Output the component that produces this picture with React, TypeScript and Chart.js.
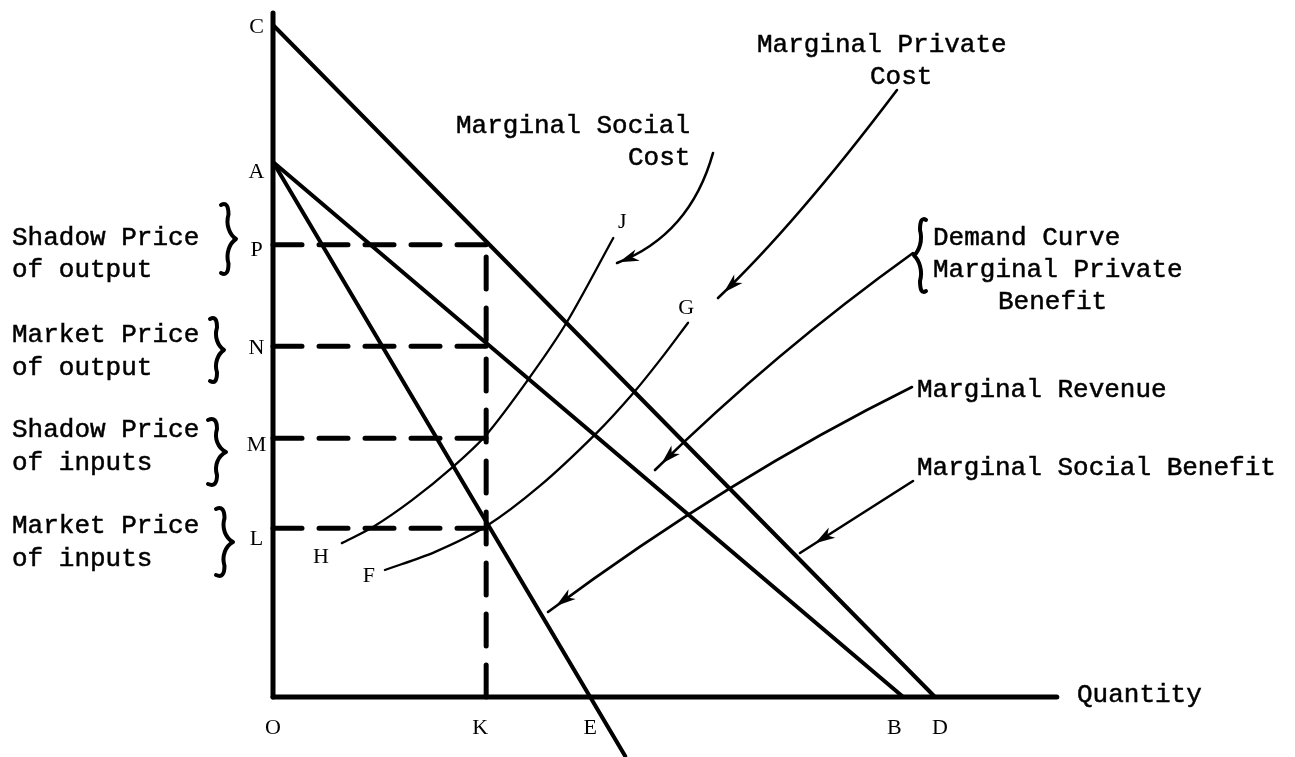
import React, { useEffect, useRef } from "react";
import { Chart, registerables } from "chart.js";

Chart.register(...registerables);

// ---- Data (economic units; origin O = 0,0) ----
const quantityLabels = ["O", "K", "E", "B", "D"];
const quantityValues = [0, 32.2, 47.9, 95.2, 100];

const priceLabels = ["L", "M", "N", "P", "A", "C"];
const priceValues = [25.1, 38.5, 52.2, 67.3, 79.6, 100];

const axisTop = 101.8;
const axisRight = 118.4;

// Marginal Social Benefit: C -> D
const socialBenefitX = [0, 100];
const socialBenefitY = [100, 0];
// Demand curve / Marginal Private Benefit: A -> B
const demandX = [0, 95.2];
const demandY = [79.6, 0];
// Marginal Revenue: A -> E and beyond
const revenueX = [0, 53.2];
const revenueY = [79.6, -8.8];

// Marginal Social Cost: H -> J
const socialCostX = [10.4, 15.1, 21.0, 27.0, 32.2, 38.8, 44.4, 51.4];
const socialCostY = [22.9, 25.3, 29.3, 34.1, 39.0, 47.6, 55.8, 68.3];
// Marginal Private Cost: F -> G
const privateCostX = [16.9, 24.5, 32.2, 40.3, 48.9, 54.4, 58.5, 62.7];
const privateCostY = [18.9, 21.6, 25.4, 31.4, 39.3, 45.2, 50.2, 55.7];

const K = quantityValues[1];

const pts = (xs: number[], ys: number[]) => xs.map((x, i) => ({ x, y: ys[i] }));

const BLACK = "#000000";
const MONO = "26px 'Liberation Mono', 'Courier New', monospace";
const SERIF = "22px 'Liberation Serif', 'Times New Roman', serif";

const monoTexts: [string, number, number][] = [
  ["Shadow Price", 12, 245],
  ["of output", 12, 277],
  ["Market Price", 12, 342],
  ["of output", 12, 375],
  ["Shadow Price", 12, 437],
  ["of inputs", 12, 470],
  ["Market Price", 12, 533],
  ["of inputs", 12, 566],
  ["Marginal Social", 456, 133],
  ["Cost", 628, 165],
  ["Marginal Private", 757, 52],
  ["Cost", 870, 84],
  ["Demand Curve", 933, 245],
  ["Marginal Private", 933, 277],
  ["Benefit", 998, 309],
  ["Marginal Revenue", 917, 397],
  ["Marginal Social Benefit", 917, 475],
  ["Quantity", 1077, 702],
];

const priceLabelDy = [9, 5, 0, 4, 8, 1];
const quantityLabelDx = [0, -6, 0, -9, 5];

function drawBrace(ctx: CanvasRenderingContext2D, x: number, y1: number, y2: number, w: number, dir: number) {
  const h = y2 - y1;
  const m = (y1 + y2) / 2;
  const xs = x + dir * w * 0.5;
  const xt = x + dir * w;
  ctx.beginPath();
  ctx.moveTo(x, y1 + 2);
  ctx.quadraticCurveTo(xs, y1 - 2, xs, y1 + h * 0.16);
  ctx.bezierCurveTo(xs - dir * 3, m - h * 0.2, xs + dir * 1, m - h * 0.06, xt, m);
  ctx.bezierCurveTo(xs + dir * 1, m + h * 0.06, xs - dir * 3, m + h * 0.2, xs, y2 - h * 0.16);
  ctx.quadraticCurveTo(xs, y2 + 2, x, y2 - 2);
  ctx.stroke();
}

function drawDart(ctx: CanvasRenderingContext2D, ex: number, ey: number, dx: number, dy: number, gap: number) {
  const len = Math.hypot(dx, dy);
  const ux = dx / len, uy = dy / len;
  const fx = ex - ux * gap, fy = ey - uy * gap;
  const L = 20, W = 6;
  const bx = fx - ux * L, by = fy - uy * L;
  const nx = -uy, ny = ux;
  const cx = fx - ux * L * 0.72, cy = fy - uy * L * 0.72;
  ctx.beginPath();
  ctx.moveTo(fx, fy);
  ctx.lineTo(bx + nx * W, by + ny * W);
  ctx.lineTo(cx, cy);
  ctx.lineTo(bx - nx * W, by - ny * W);
  ctx.closePath();
  ctx.fill();
}

function drawArrow(
  ctx: CanvasRenderingContext2D,
  s: [number, number],
  c: [number, number] | null,
  e: [number, number],
  gap: number
) {
  ctx.beginPath();
  ctx.moveTo(s[0], s[1]);
  if (c) ctx.quadraticCurveTo(c[0], c[1], e[0], e[1]);
  else ctx.lineTo(e[0], e[1]);
  ctx.stroke();
  const from = c || s;
  drawDart(ctx, e[0], e[1], e[0] - from[0], e[1] - from[1], gap);
}

const annotationPlugin = {
  id: "diagramAnnotations",
  afterDatasetsDraw(chart: any) {
    const ctx: CanvasRenderingContext2D = chart.ctx;
    const xs = chart.scales.x;
    const ys = chart.scales.y;
    const px = (v: number) => xs.getPixelForValue(v);
    const py = (v: number) => ys.getPixelForValue(v);
    ctx.save();
    ctx.fillStyle = BLACK;
    ctx.strokeStyle = BLACK;

    // typewriter texts (slightly emboldened like the typed original)
    ctx.font = MONO;
    ctx.textAlign = "left";
    ctx.textBaseline = "alphabetic";
    ctx.lineWidth = 0.5;
    monoTexts.forEach(([t, x, y]) => {
      ctx.fillText(t, x, y);
      ctx.strokeText(t, x, y);
    });

    // point letters
    ctx.font = SERIF;
    ctx.textAlign = "center";
    priceLabels.forEach((l, i) => {
      ctx.fillText(l, px(0) - 16.5, py(priceValues[i]) + priceLabelDy[i] + 7.5);
    });
    quantityLabels.forEach((l, i) => {
      ctx.fillText(l, px(quantityValues[i]) + quantityLabelDx[i], py(0) + 37.5);
    });
    const n1 = socialCostX.length - 1;
    const n2 = privateCostX.length - 1;
    ctx.fillText("H", px(socialCostX[0]) - 21, py(socialCostY[0]) + 19.5);
    ctx.fillText("J", px(socialCostX[n1]) + 9, py(socialCostY[n1]) - 10.5);
    ctx.fillText("F", px(privateCostX[0]) - 16, py(privateCostY[0]) + 12.5);
    ctx.fillText("G", px(privateCostX[n2]) - 2, py(privateCostY[n2]) - 8.5);

    // braces
    ctx.lineWidth = 4;
    ctx.lineCap = "round";
    ctx.lineJoin = "round";
    drawBrace(ctx, 221, 203, 275, 15, 1);
    drawBrace(ctx, 210, 317, 383, 14, 1);
    drawBrace(ctx, 208, 418, 486, 18, 1);
    drawBrace(ctx, 216, 507, 577, 17, 1);
    drawBrace(ctx, 926, 218, 293, 12, -1);

    // pointer arrows
    ctx.lineWidth = 2.6;
    drawArrow(ctx, [713, 153], [690, 235], [617, 263], 2);
    drawArrow(ctx, [897, 90], [795, 225], [718, 298], 8);
    drawArrow(ctx, [913, 253], [775, 352], [655, 470], 9);
    drawArrow(ctx, [912, 387], [730, 477], [548, 612], 10);
    drawArrow(ctx, [913, 481], null, [800, 553], 18);

    ctx.restore();
  },
};

export default function App() {
  const ref = useRef<HTMLCanvasElement>(null);

  useEffect(() => {
    const canvas = ref.current;
    if (!canvas) return;

    const solid = (data: { x: number; y: number }[], width: number) => ({
      data,
      showLine: true,
      borderColor: BLACK,
      backgroundColor: BLACK,
      borderWidth: width,
      pointRadius: 0,
      borderCapStyle: "round" as const,
      borderJoinStyle: "round" as const,
      fill: false,
    });
    const dashed = (data: { x: number; y: number }[], dash: number[]) => ({
      ...solid(data, 5),
      borderDash: dash,
    });
    const curve = (data: { x: number; y: number }[]) => ({
      ...solid(data, 2.3),
      tension: 0.3,
    });

    const priceDashes = priceValues.slice(0, 4).map((v) =>
      dashed(
        [
          { x: 0, y: v },
          { x: K, y: v },
        ],
        [29, 17]
      )
    );

    const chart = new Chart(canvas, {
      type: "scatter",
      data: {
        datasets: [
          ...priceDashes,
          dashed(
            [
              { x: K, y: 0 },
              { x: K, y: priceValues[3] },
            ],
            [32, 19]
          ),
          solid(
            [
              { x: 0, y: 0 },
              { x: 0, y: axisTop },
            ],
            5
          ),
          solid(
            [
              { x: 0, y: 0 },
              { x: axisRight, y: 0 },
            ],
            5
          ),
          solid(pts(socialBenefitX, socialBenefitY), 4),
          solid(pts(demandX, demandY), 4),
          solid(pts(revenueX, revenueY), 4),
          curve(pts(socialCostX, socialCostY)),
          curve(pts(privateCostX, privateCostY)),
        ] as any,
      },
      options: {
        animation: false,
        responsive: false,
        events: [],
        layout: { padding: 0 },
        plugins: {
          legend: { display: false },
          tooltip: { enabled: false },
        },
        scales: {
          x: { type: "linear", min: -41.24, max: 154.38, display: false },
          y: { type: "linear", min: -8.93, max: 103.72, display: false },
        },
      },
      plugins: [annotationPlugin],
    });

    return () => chart.destroy();
  }, []);

  return (
    <div
      style={{
        position: "absolute",
        left: 0,
        top: 0,
        width: 1295,
        height: 757,
        background: "#ffffff",
      }}
    >
      <canvas ref={ref} width={1295} height={757} style={{ display: "block" }} />
    </div>
  );
}
